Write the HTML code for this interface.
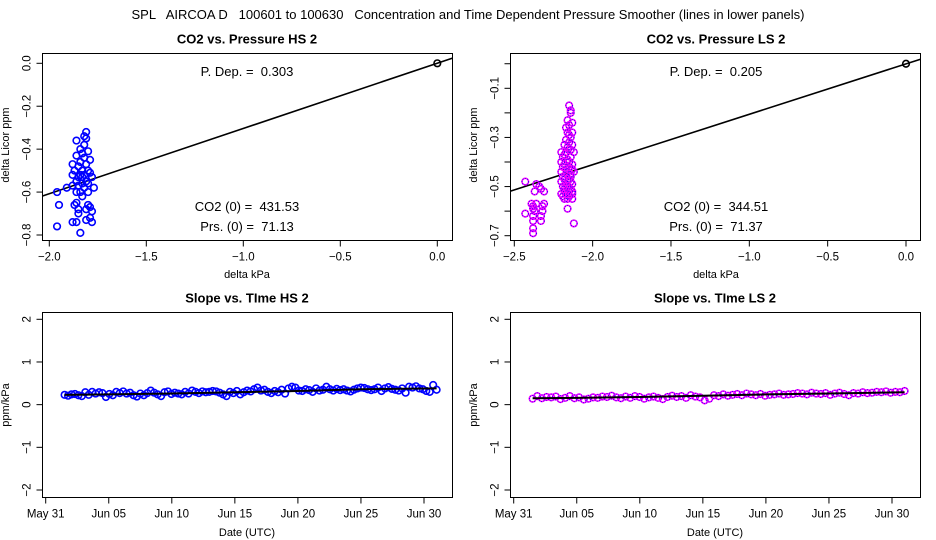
<!DOCTYPE html>
<html><head><meta charset="utf-8"><style>
html,body{margin:0;padding:0;background:#fff}
svg{display:block;font-family:"Liberation Sans",Arial,sans-serif}
svg text{white-space:pre}
</style></head><body>
<svg id="c" width="936" height="540" viewBox="0 0 936 540" xmlns="http://www.w3.org/2000/svg">
<text x="468" y="19" font-size="13" text-anchor="middle" xml:space="preserve">SPL   AIRCOA D   100601 to 100630   Concentration and Time Dependent Pressure Smoother (lines in lower panels)</text>
</svg>
<script>
// ---- data ----
const hsX = [-1.96,-1.95,-1.96,-1.91,-1.88,-1.88,-1.88,-1.87,-1.88,-1.86,-1.86,-1.86,-1.86,-1.85,-1.85,-1.84,-1.86,-1.85,-1.84,-1.84,-1.84,-1.83,-1.83,-1.83,-1.82,-1.82,-1.82,-1.82,-1.82,-1.81,-1.81,-1.81,-1.81,-1.81,-1.81,-1.80,-1.80,-1.80,-1.79,-1.79,-1.79,-1.79,-1.78,-1.78,-1.78,-1.77,-1.84,-1.85,-1.87,-1.83,-1.80,-1.86,-1.85,-1.83,-1.80];
const hsY = [-0.60,-0.66,-0.76,-0.58,-0.57,-0.47,-0.52,-0.66,-0.74,-0.74,-0.65,-0.43,-0.36,-0.70,-0.68,-0.79,-0.55,-0.53,-0.60,-0.40,-0.46,-0.50,-0.56,-0.62,-0.34,-0.38,-0.44,-0.52,-0.58,-0.32,-0.35,-0.47,-0.55,-0.68,-0.73,-0.41,-0.50,-0.56,-0.45,-0.51,-0.67,-0.72,-0.53,-0.69,-0.74,-0.58,-0.52,-0.57,-0.50,-0.53,-0.60,-0.60,-0.48,-0.42,-0.66];
const lsX = [-2.43,-2.43,-2.39,-2.38,-2.38,-2.38,-2.38,-2.38,-2.38,-2.37,-2.37,-2.36,-2.36,-2.34,-2.33,-2.33,-2.33,-2.32,-2.32,-2.31,-2.31,
 -2.15,-2.14,-2.14,-2.16,-2.15,-2.13,-2.17,-2.16,-2.15,-2.14,-2.13,-2.18,-2.17,-2.16,-2.15,-2.14,-2.13,-2.20,-2.19,-2.18,-2.17,-2.16,-2.15,-2.14,-2.13,-2.12,-2.20,-2.19,-2.18,-2.17,-2.16,-2.15,-2.14,-2.13,-2.20,-2.19,-2.18,-2.17,-2.16,-2.15,-2.14,-2.13,-2.12,-2.20,-2.19,-2.18,-2.17,-2.16,-2.15,-2.14,-2.13,-2.19,-2.18,-2.17,-2.16,-2.15,-2.14,-2.13,-2.20,-2.18,-2.16,-2.14,-2.13,-2.16,-2.12];
const lsY = [-0.48,-0.61,-0.57,-0.58,-0.59,-0.62,-0.64,-0.67,-0.69,-0.52,-0.60,-0.49,-0.57,-0.50,-0.51,-0.62,-0.64,-0.60,-0.58,-0.52,-0.57,
 -0.17,-0.19,-0.20,-0.23,-0.25,-0.24,-0.26,-0.28,-0.29,-0.30,-0.28,-0.33,-0.31,-0.34,-0.32,-0.35,-0.33,-0.36,-0.38,-0.37,-0.36,-0.39,-0.40,-0.38,-0.41,-0.36,-0.40,-0.42,-0.41,-0.43,-0.44,-0.42,-0.45,-0.43,-0.44,-0.46,-0.47,-0.45,-0.48,-0.47,-0.46,-0.49,-0.44,-0.48,-0.50,-0.51,-0.49,-0.50,-0.52,-0.51,-0.53,-0.54,-0.52,-0.53,-0.55,-0.54,-0.51,-0.55,-0.53,-0.55,-0.50,-0.48,-0.52,-0.59,-0.65];
const hsPdep = 0.303, lsPdep = 0.205;
const hsDays = [];const lsDays=[];
const hsSlope = [0.23,0.21,0.24,0.25,0.22,0.20,0.29,0.23,0.30,0.26,0.29,0.27,0.18,0.25,0.22,0.30,0.27,0.31,0.26,0.28,0.22,0.19,0.26,0.22,0.27,0.33,0.28,0.24,0.20,0.29,0.31,0.25,0.28,0.26,0.24,0.30,0.26,0.33,0.30,0.27,0.31,0.29,0.30,0.32,0.31,0.28,0.24,0.20,0.30,0.27,0.32,0.24,0.29,0.33,0.31,0.36,0.40,0.33,0.35,0.30,0.27,0.32,0.29,0.35,0.26,0.38,0.42,0.40,0.33,0.32,0.36,0.34,0.30,0.38,0.33,0.35,0.42,0.36,0.33,0.37,0.34,0.36,0.33,0.31,0.35,0.38,0.40,0.39,0.36,0.34,0.36,0.40,0.32,0.38,0.41,0.37,0.35,0.33,0.38,0.28,0.42,0.40,0.43,0.38,0.36,0.32,0.30,0.46,0.35];
const lsSlope = [0.14,0.20,0.15,0.18,0.17,0.19,0.13,0.16,0.20,0.15,0.17,0.12,0.14,0.17,0.16,0.19,0.18,0.21,0.17,0.15,0.19,0.16,0.20,0.18,0.14,0.17,0.19,0.16,0.13,0.18,0.21,0.18,0.20,0.16,0.22,0.19,0.17,0.10,0.14,0.22,0.20,0.24,0.21,0.23,0.25,0.22,0.26,0.24,0.22,0.25,0.21,0.23,0.24,0.26,0.23,0.24,0.25,0.27,0.26,0.24,0.28,0.26,0.25,0.27,0.23,0.26,0.28,0.25,0.22,0.27,0.26,0.29,0.27,0.28,0.30,0.29,0.31,0.28,0.30,0.29,0.32];
const hsSmoothDays = [1.5,5,10,15,20,25,31];
const hsSmooth = [0.23,0.24,0.26,0.29,0.32,0.36,0.38];
const lsSmoothDays = [1.5,5,10,15,20,25,31];
const lsSmooth = [0.15,0.16,0.18,0.21,0.24,0.26,0.29];
const dateTicks = [0,5,10,15,20,25,30];
const dateLabels = ["May 31","Jun 05","Jun 10","Jun 15","Jun 20","Jun 25","Jun 30"];
for(let i=0;i<hsSlope.length;i++) hsDays.push(1.5+29.5*i/(hsSlope.length-1));
for(let i=0;i<lsSlope.length;i++) lsDays.push(1.5+29.5*i/(lsSlope.length-1));

const svg=document.getElementById('c');const NS='http://www.w3.org/2000/svg';
function el(tag,at,txt){const e=document.createElementNS(NS,tag);for(const k in at)e.setAttribute(k,at[k]);if(txt!==undefined)e.textContent=txt;svg.appendChild(e);return e;}
function lin(d0,d1,p0,p1){return v=>p0+(v-d0)*(p1-p0)/(d1-d0);}

function frame(name,x0,y0,x1,y1,title,tx){
  const r=el('rect',{x:x0,y:y0,width:x1-x0,height:y1-y0,fill:'none',stroke:'#000','stroke-width':1});
  
  const t=el('text',{x:tx,y:y0-10,'font-size':13,'font-weight':'bold','text-anchor':'middle'},title);
  
}
function yaxis(name,x0,ys,vals,labels,axisLabel,labelX,midY){
  const ax=el('line',{x1:x0,x2:x0,y1:ys(vals[0]),y2:ys(vals[vals.length-1]),stroke:'#000'});
  
  vals.forEach((v,i)=>{el('line',{x1:x0-6,x2:x0,y1:ys(v),y2:ys(v),stroke:'#000'});
    if(labels[i]!==''){const t=el('text',{x:x0-12,y:ys(v),'font-size':11.5,'text-anchor':'middle',transform:`rotate(-90 ${x0-12} ${ys(v)})`},labels[i]);
    }});
  const l=el('text',{x:labelX,y:midY,'font-size':11,'text-anchor':'middle',transform:`rotate(-90 ${labelX} ${midY})`},axisLabel);
  
}
function xaxis(name,y0,xs,vals,labels,axisLabel,midX,labY){
  const ax=el('line',{x1:xs(vals[0]),x2:xs(vals[vals.length-1]),y1:y0,y2:y0,stroke:'#000'});
  
  vals.forEach((v,i)=>{el('line',{x1:xs(v),x2:xs(v),y1:y0,y2:y0+6,stroke:'#000'});
    const t=el('text',{x:xs(v),y:y0+20,'font-size':11.5,'text-anchor':'middle'},labels[i]);
    });
  const l=el('text',{x:midX,y:labY,'font-size':11,'text-anchor':'middle'},axisLabel);
  
}
function pts(name,X,Y,xs,ys,color,inner){
  X.forEach((x,i)=>{const c=el('circle',{cx:xs(x),cy:ys(Y[i]),r:3.3,fill:'none',stroke:color,'stroke-width':1.6});
    
    if(inner){const d=el('circle',{cx:xs(x),cy:ys(Y[i]),r:3.3,fill:'none',stroke:inner,'stroke-width':0.8,'stroke-dasharray':'1 1.5'});}});
}
function txt(name,x,y,s){const t=el('text',{x:x,y:y,'font-size':13,'text-anchor':'middle'},s);}

// ---- Top-left ----
{const xs=lin(-2,0,49.3,437.3), ys=lin(0,-0.8,63.3,235);
frame('hs-pressure',42.5,53.5,452.5,240.5,'CO2 vs. Pressure HS 2',247);
const L=el('line',{x1:42.5,y1:ys(hsPdep*-2.04),x2:452.5,y2:ys(hsPdep*0.08),stroke:'#000','stroke-width':1.6});

pts('hs-scatter',hsX,hsY,xs,ys,'#0000ff');
pts('hs-origin',[0],[0],xs,ys,'#000');
yaxis('hs-pressure',42.5,ys,[0,-0.2,-0.4,-0.6,-0.8],['0.0','−0.2','−0.4','−0.6','−0.8'],'delta Licor ppm',9,145);
xaxis('hs-pressure',240.5,xs,[-2,-1.5,-1,-0.5,0],['−2.0','−1.5','−1.0','−0.5','0.0'],'delta kPa',247,278);
txt('hs-pdep-label',247,76,'P. Dep. =  0.303');txt('hs-co2-label',247,211,'CO2 (0) =  431.53');txt('hs-prs-label',247,231,'Prs. (0) =  71.13');}

// ---- Top-right ----
{const xs=lin(-2.5,0,514.3,906), ys=lin(-0.1,-0.7,88.3,235.7);
frame('ls-pressure',510.5,53.5,920.5,240.5,'CO2 vs. Pressure LS 2',716);
const L=el('line',{x1:510.5,y1:ys(lsPdep*-2.53),x2:920.5,y2:ys(lsPdep*0.09),stroke:'#000','stroke-width':1.6});

pts('ls-scatter',lsX,lsY,xs,ys,'#ff00ff','#0000ff');
pts('ls-origin',[0],[0],xs,ys,'#000');
yaxis('ls-pressure',510.5,ys,[0,-0.1,-0.2,-0.3,-0.4,-0.5,-0.6,-0.7],['','−0.1','','−0.3','','−0.5','','−0.7'],'delta Licor ppm',477,145);
xaxis('ls-pressure',240.5,xs,[-2.5,-2,-1.5,-1,-0.5,0],['−2.5','−2.0','−1.5','−1.0','−0.5','0.0'],'delta kPa',716,278);
txt('ls-pdep-label',716,76,'P. Dep. =  0.205');txt('ls-co2-label',716,211,'CO2 (0) =  344.51');txt('ls-prs-label',716,231,'Prs. (0) =  71.37');}

// ---- Bottom panels ----
function bottom(name,off,title,days,vals,sd,sv,color,inner){
  const xs=lin(0,30,45.7+off,424+off), ys=lin(2,-2,319.3,490);
  frame(name,42.5+off,312.5,452.5+off,497.5,title,247+off);
  pts(name,days,vals,xs,ys,color,inner);
  let d='';sd.forEach((x,i)=>{d+=(i?'L':'M')+xs(x)+','+ys(sv[i]);});
  const p=el('path',{d:d,fill:'none',stroke:'#000','stroke-width':2});
  
  yaxis(name,42.5+off,ys,[2,1,0,-1,-2],['2','1','0','−1','−2'],'ppm/kPa',9+off,405);
  xaxis(name,497.5,xs,dateTicks,dateLabels,'Date (UTC)',247+off,536);
}
bottom('hs-slope',0,'Slope vs. TIme HS 2',hsDays,hsSlope,hsSmoothDays,hsSmooth,'#0000ff');
bottom('ls-slope',468,'Slope vs. TIme LS 2',lsDays,lsSlope,lsSmoothDays,lsSmooth,'#ff00ff','#0000ff');
</script>
</body></html>
